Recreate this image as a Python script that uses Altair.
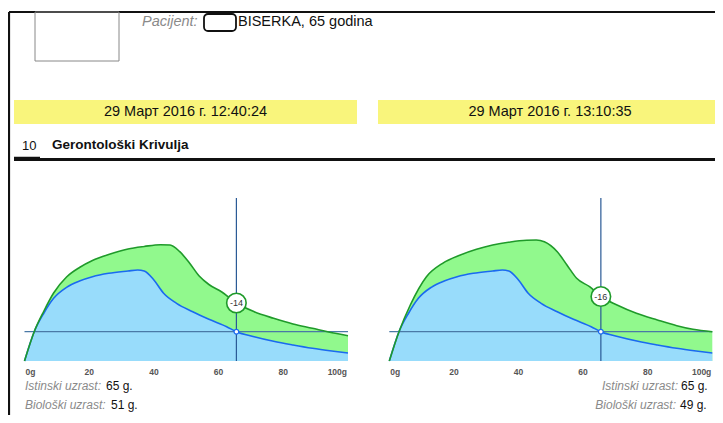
import altair as alt
import pandas as pd

# ---------------- data ----------------
PATIENT_LABEL = "Pacijent:"
PATIENT_NAME = "BISERKA, 65 godina"
SESSION_DATES = ["29 Март 2016 г. 12:40:24", "29 Март 2016 г. 13:10:35"]
SECTION_NO = "10"
SECTION_TITLE = "Gerontološki Krivulja"

TICK_VALUES = [0, 20, 40, 60, 80, 100]
TICK_LABELS = ["0g", "20", "40", "60", "80", "100g"]

# blue (biological) curve - same in both sessions
BLUE_AGES = [0, 3, 6, 9, 13, 17, 21, 26, 32, 35, 37, 40, 43, 47, 52, 57, 62.5, 65.5, 71, 77, 83, 89, 95, 100]
BLUE_VALS = [0, 29.3, 48, 62.7, 73.7, 80, 84.3, 87.7, 90, 91, 90, 81, 67.7, 57.7, 49.3, 41.7, 34.3, 29.3, 24.3, 19.7, 16, 12.7, 10, 8]

# green curve, session 1
GREEN_L_AGES = [0, 3, 6, 9, 13, 17, 21, 26, 32, 37, 42, 45, 48, 51, 54, 57, 61, 65.5, 71, 77, 83, 89, 94, 100]
GREEN_L_VALS = [0, 29.3, 50, 68, 84, 93.5, 100.5, 106.5, 112, 114.5, 116.3, 116, 109.3, 98, 85, 76.5, 69, 58, 49.3, 42.7, 37, 32.7, 29, 25.3]

# green curve, session 2
GREEN_R_AGES = [0, 3, 6.5, 11.5, 16.5, 22, 27, 32, 37.5, 42.5, 45.5, 48, 52, 55, 58, 62, 65.5, 70.5, 76.5, 83, 89, 94, 100]
GREEN_R_VALS = [0, 29.3, 56, 84.3, 97.7, 106, 111.7, 116, 119, 120.7, 121, 119.3, 109.3, 96, 82.7, 74.3, 64.5, 56, 47.7, 41, 35.3, 31.7, 29.3]

MARKER_AGE = 65.5
REFERENCE_LEVEL = 29.3
MARKER_TOP = 163
AGE_GAP = [-14, -16]
REAL_AGE = [65, 65]
BIO_AGE = [51, 49]

# ---------------- styles ----------------
FONT = "Liberation Sans"
GREEN_FILL = "#91f98d"
BLUE_FILL = "#98dcfb"
GREEN_LINE = "#1f9a2a"
BLUE_LINE = "#1a6af0"
HLINE = "#4a79a6"
VLINE = "#2a5a96"
YELLOW = "#f9f57c"

W, H = 707, 407
ONE = pd.DataFrame({"k": [0]})


def rule(x, x2, y, y2, color, width):
    return alt.Chart(ONE).mark_rule(color=color, strokeWidth=width).encode(
        x=alt.value(x), x2=alt.value(x2), y=alt.value(y), y2=alt.value(y2))


def box(x, x2, y, y2, fill=None, stroke=None, sw=1, radius=0):
    kw = dict(cornerRadius=radius, strokeWidth=sw)
    kw["fill"] = fill if fill else "transparent"
    if stroke:
        kw["stroke"] = stroke
    return alt.Chart(ONE).mark_rect(**kw).encode(
        x=alt.value(x), x2=alt.value(x2), y=alt.value(y), y2=alt.value(y2))


def label(text, x, y, size=13, color="#111", align="left", style="normal",
          weight="normal", baseline="middle"):
    return alt.Chart(pd.DataFrame({"t": [text]})).mark_text(
        font=FONT, fontSize=size, color=color, align=align, fontStyle=style,
        fontWeight=weight, baseline=baseline).encode(
        text="t:N", x=alt.value(x), y=alt.value(y))


def panel(x_range, green_ages, green_vals, gap):
    xs = alt.Scale(domain=[0, 100], range=x_range, nice=False, zero=False)
    ys = alt.Scale(domain=[0, MARKER_TOP], range=[353, 190], nice=False)

    def X(f):
        return alt.X(f, type="quantitative", scale=xs, axis=None)

    def Y(f):
        return alt.Y(f, type="quantitative", scale=ys, axis=None)

    green = pd.DataFrame({"age": green_ages, "v": green_vals})
    blue = pd.DataFrame({"age": BLUE_AGES, "v": BLUE_VALS})
    green_at = green_vals[green_ages.index(MARKER_AGE)]

    layers = [
        alt.Chart(green).mark_area(color=GREEN_FILL, interpolate="monotone", opacity=1)
        .encode(x=X("age"), y=Y("v")),
        alt.Chart(blue).mark_area(color=BLUE_FILL, interpolate="monotone", opacity=1)
        .encode(x=X("age"), y=Y("v")),
        alt.Chart(pd.DataFrame({"a0": [0], "a1": [100], "v": [REFERENCE_LEVEL]}))
        .mark_rule(color=HLINE, strokeWidth=1.2)
        .encode(x=X("a0"), x2=alt.X2("a1"), y=Y("v")),
        alt.Chart(pd.DataFrame({"a": [MARKER_AGE], "v0": [0], "v1": [MARKER_TOP]}))
        .mark_rule(color=VLINE, strokeWidth=1.2)
        .encode(x=X("a"), y=Y("v0"), y2=alt.Y2("v1")),
        alt.Chart(blue).mark_line(color=BLUE_LINE, strokeWidth=1.6, interpolate="monotone")
        .encode(x=X("age"), y=Y("v")),
        alt.Chart(green).mark_line(color=GREEN_LINE, strokeWidth=1.6, interpolate="monotone")
        .encode(x=X("age"), y=Y("v")),
        alt.Chart(pd.DataFrame({"a": [MARKER_AGE], "v": [REFERENCE_LEVEL]}))
        .mark_circle(size=22, fill="white", stroke=BLUE_LINE, strokeWidth=1.2, opacity=1)
        .encode(x=X("a"), y=Y("v")),
        alt.Chart(pd.DataFrame({"a": [MARKER_AGE], "v": [green_at], "t": [str(gap)]}))
        .mark_circle(size=380, fill="white", stroke=GREEN_LINE, strokeWidth=1.6, opacity=1)
        .encode(x=X("a"), y=Y("v")),
        alt.Chart(pd.DataFrame({"a": [MARKER_AGE], "v": [green_at], "t": [str(gap)]}))
        .mark_text(font=FONT, fontSize=9, color="#333", baseline="middle")
        .encode(x=X("a"), y=Y("v"), text="t:N"),
    ]
    ticks = pd.DataFrame({"a": TICK_VALUES, "t": TICK_LABELS})
    for sub, align, dx in [(ticks.iloc[:1], "left", 1), (ticks.iloc[1:-1], "center", 0),
                           (ticks.iloc[-1:], "right", -1)]:
        layers.append(
            alt.Chart(sub).mark_text(font=FONT, fontSize=8.5, color="#555", align=align,
                                     fontWeight="bold", dx=dx, baseline="middle")
            .encode(x=X("a"), y=alt.value(363.5), text="t:N"))
    return layers


decor = [
    rule(1, W, 4, 4, "#111", 2.2),
    rule(1, 1, 4, H, "#111", 2.2),
    box(27, 111, 4, 53, stroke="#888", sw=1),
    label(PATIENT_LABEL, 134, 13.5, size=14.5, color="#8a8a8a", style="italic"),
    box(196, 228, 6, 23, stroke="#111", sw=1.8, radius=4),
    label(PATIENT_NAME, 230, 13.5, size=14.5),
    box(6, 349, 92, 116, fill=YELLOW),
    box(370, W, 92, 116, fill=YELLOW),
    label(SESSION_DATES[0], 177.5, 104, size=14.5, align="center"),
    label(SESSION_DATES[1], 542, 104, size=14.5, align="center"),
    label(SECTION_NO, 14, 138, size=13),
    label(SECTION_TITLE, 44, 137, size=13.5, weight="bold"),
    rule(6, 32, 150.5, 150.5, "#111", 3.5),
    rule(6, W, 151.5, 151.5, "#111", 3),
    # bottom info, left session
    label("Istinski uzrast:", 17, 382, size=12, color="#8a8a8a", style="italic", baseline="alphabetic"),
    label(f"{REAL_AGE[0]} g.", 98, 382, size=12, baseline="alphabetic"),
    label("Biološki uzrast:", 17, 401, size=12, color="#8a8a8a", style="italic", baseline="alphabetic"),
    label(f"{BIO_AGE[0]} g.", 103, 401, size=12, baseline="alphabetic"),
    # bottom info, right session
    label("Istinski uzrast:", 670, 382, size=12, color="#8a8a8a", style="italic", align="right", baseline="alphabetic"),
    label(f"{REAL_AGE[1]} g.", 673, 382, size=12, baseline="alphabetic"),
    label("Biološki uzrast:", 668, 401, size=12, color="#8a8a8a", style="italic", align="right", baseline="alphabetic"),
    label(f"{BIO_AGE[1]} g.", 672, 401, size=12, baseline="alphabetic"),
]

left = panel([16.5, 340], GREEN_L_AGES, GREEN_L_VALS, AGE_GAP[0])
right = panel([381.3, 704.3], GREEN_R_AGES, GREEN_R_VALS, AGE_GAP[1])

chart = (
    alt.layer(*decor, *left, *right)
    .resolve_scale(x="independent", y="independent")
    .properties(width=W, height=H, padding=0, background="white",
                autosize=alt.AutoSizeParams(type="none"))
    .configure_view(stroke=None)
)

chart.save("out.html", embed_options={"renderer": "svg", "actions": False})
